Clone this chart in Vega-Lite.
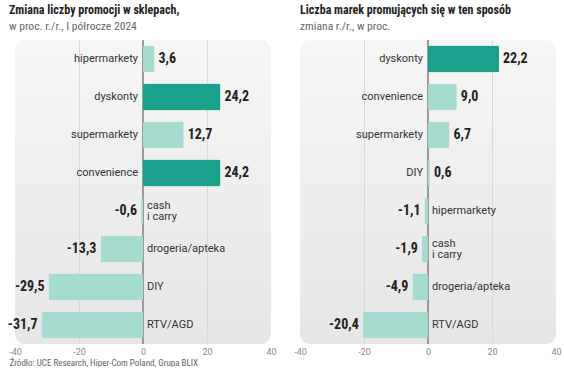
{
  "$schema": "https://vega.github.io/schema/vega-lite/v6.json",
  "padding": {"left": 7, "top": 3, "right": 0, "bottom": 0},
  "background": "white",
  "config": {
    "locale": {"number": {"decimal": ",", "thousands": " ", "grouping": [3], "currency": ["", " zł"], "minus": "-"}},
    "view": {"stroke": null, "cornerRadius": 10, "fill": {"gradient": "linear", "x1": 0, "y1": 0, "x2": 0, "y2": 1, "stops": [{"offset": 0, "color": "#f6f6f6"}, {"offset": 1, "color": "#e6e6e6"}]}},
    "title": {"anchor": "start", "frame": "group", "font": "Liberation Sans Narrow, Roboto Condensed, Roboto", "fontSize": 12, "fontWeight": "bold", "color": "#222", "subtitleFont": "Liberation Sans Narrow, Roboto Condensed, Roboto", "subtitleFontSize": 11.6, "subtitleColor": "#666", "subtitlePadding": 4, "offset": 6},
    "axisX": {"domain": false, "ticks": false, "labelColor": "#8a8a8a", "labelFontSize": 9, "labelFont": "Roboto", "labelFlush": false, "labelPadding": 3, "grid": true, "gridColor": {"condition": {"test": "abs(datum.value) == 20", "value": "#d9d9d9"}, "value": "transparent"}}
  },
  "datasets": {
    "d": [
      {"panel": "A", "order": 1, "cat": "hipermarkety", "value": 3.6, "hl": false},
      {"panel": "A", "order": 2, "cat": "dyskonty", "value": 24.2, "hl": true},
      {"panel": "A", "order": 3, "cat": "supermarkety", "value": 12.7, "hl": false},
      {"panel": "A", "order": 4, "cat": "convenience", "value": 24.2, "hl": true},
      {"panel": "A", "order": 5, "cat": "cash\ni carry", "value": -0.6, "hl": false},
      {"panel": "A", "order": 6, "cat": "drogeria/apteka", "value": -13.3, "hl": false},
      {"panel": "A", "order": 7, "cat": "DIY", "value": -29.5, "hl": false},
      {"panel": "A", "order": 8, "cat": "RTV/AGD", "value": -31.7, "hl": false},
      {"panel": "B", "order": 1, "cat": "dyskonty", "value": 22.2, "hl": true},
      {"panel": "B", "order": 2, "cat": "convenience", "value": 9.0, "hl": false},
      {"panel": "B", "order": 3, "cat": "supermarkety", "value": 6.7, "hl": false},
      {"panel": "B", "order": 4, "cat": "DIY", "value": 0.6, "hl": false},
      {"panel": "B", "order": 5, "cat": "hipermarkety", "value": -1.1, "hl": false},
      {"panel": "B", "order": 6, "cat": "cash\ni carry", "value": -1.9, "hl": false},
      {"panel": "B", "order": 7, "cat": "drogeria/apteka", "value": -4.9, "hl": false},
      {"panel": "B", "order": 8, "cat": "RTV/AGD", "value": -20.4, "hl": false}
    ]
  },
  "hconcat": [
    {
      "width": 256,
      "height": 304,
      "title": {"text": "Zmiana liczby promocji w sklepach,", "subtitle": "w proc. r./r., I półrocze 2024", "dx": -6},
      "data": {"name": "d"},
      "transform": [{"filter": "datum.panel == 'A'"}],
      "encoding": {
        "y": {"field": "cat", "type": "nominal", "sort": ["hipermarkety", "dyskonty", "supermarkety", "convenience", "cash\ni carry", "drogeria/apteka", "DIY", "RTV/AGD"], "axis": null, "scale": {"paddingInner": 0.29, "paddingOuter": 0.145}}
      },
      "layer": [
        {"mark": {"type": "rule", "color": "#9a9a9a", "strokeWidth": 1}, "encoding": {"y": null, "x": {"datum": 0, "type": "quantitative", "scale": {"domain": [-40, 40], "nice": false}, "axis": {"values": [-40, -20, 0, 20, 40], "title": "Źródło: UCE Research, Hiper-Com Poland, Grupa BLIX", "titleFont": "Liberation Sans Narrow, Roboto Condensed, Roboto", "titleFontSize": 9, "titleFontWeight": "normal", "titleColor": "#666", "titleAnchor": "start", "titleAlign": "left", "titleBaseline": "alphabetic", "titleX": -6, "titleY": 21}}}},
        {"mark": {"type": "bar", "cornerRadius": 2}, "encoding": {"x": {"field": "value", "type": "quantitative"}, "color": {"condition": {"test": "datum.hl", "value": "#1ba08b"}, "value": "#a6dbd0"}}},
        {"transform": [{"filter": "datum.value >= 0"}], "mark": {"type": "text", "align": "left", "dx": 4, "font": "Liberation Sans Narrow, Roboto Condensed, Roboto", "fontSize": 14, "fontWeight": "bold", "color": "#222", "baseline": "middle"}, "encoding": {"x": {"field": "value", "type": "quantitative"}, "text": {"field": "value", "type": "quantitative", "format": ".1f"}}},
        {"transform": [{"filter": "datum.value < 0"}], "mark": {"type": "text", "align": "right", "dx": -4, "font": "Liberation Sans Narrow, Roboto Condensed, Roboto", "fontSize": 14, "fontWeight": "bold", "color": "#222", "baseline": "middle"}, "encoding": {"x": {"field": "value", "type": "quantitative"}, "text": {"field": "value", "type": "quantitative", "format": ".1f"}}},
        {"transform": [{"filter": "datum.value >= 0"}], "mark": {"type": "text", "align": "right", "dx": -5, "font": "Roboto", "fontSize": 11, "color": "#333", "baseline": "middle"}, "encoding": {"x": {"datum": 0, "type": "quantitative"}, "text": {"field": "cat"}}},
        {"transform": [{"filter": "datum.value < 0 && indexof(datum.cat, '\\n') < 0"}], "mark": {"type": "text", "align": "left", "dx": 4, "font": "Roboto", "fontSize": 11, "color": "#333", "baseline": "middle"}, "encoding": {"x": {"datum": 0, "type": "quantitative"}, "text": {"field": "cat"}}},
        {"transform": [{"filter": "indexof(datum.cat, '\\n') >= 0"}], "mark": {"type": "text", "align": "left", "dx": 4, "dy": -5.5, "font": "Roboto", "fontSize": 11, "color": "#333", "baseline": "middle", "lineBreak": "\n", "lineHeight": 11}, "encoding": {"x": {"datum": 0, "type": "quantitative"}, "text": {"field": "cat"}}}
      ]
    },
    {
      "width": 256,
      "height": 304,
      "title": {"text": "Liczba marek promujących się w ten sposób", "subtitle": "zmiana r./r., w proc."},
      "data": {"name": "d"},
      "transform": [{"filter": "datum.panel == 'B'"}],
      "encoding": {
        "y": {"field": "cat", "type": "nominal", "sort": ["dyskonty", "convenience", "supermarkety", "DIY", "hipermarkety", "cash\ni carry", "drogeria/apteka", "RTV/AGD"], "axis": null, "scale": {"paddingInner": 0.29, "paddingOuter": 0.145}}
      },
      "layer": [
        {"mark": {"type": "rule", "color": "#9a9a9a", "strokeWidth": 1}, "encoding": {"y": null, "x": {"datum": 0, "type": "quantitative", "scale": {"domain": [-40, 40], "nice": false}, "axis": {"values": [-40, -20, 0, 20, 40], "title": null}}}},
        {"mark": {"type": "bar", "cornerRadius": 2}, "encoding": {"x": {"field": "value", "type": "quantitative"}, "color": {"condition": {"test": "datum.hl", "value": "#1ba08b"}, "value": "#a6dbd0"}}},
        {"transform": [{"filter": "datum.value >= 0"}], "mark": {"type": "text", "align": "left", "dx": 4, "font": "Liberation Sans Narrow, Roboto Condensed, Roboto", "fontSize": 14, "fontWeight": "bold", "color": "#222", "baseline": "middle"}, "encoding": {"x": {"field": "value", "type": "quantitative"}, "text": {"field": "value", "type": "quantitative", "format": ".1f"}}},
        {"transform": [{"filter": "datum.value < 0"}], "mark": {"type": "text", "align": "right", "dx": -4, "font": "Liberation Sans Narrow, Roboto Condensed, Roboto", "fontSize": 14, "fontWeight": "bold", "color": "#222", "baseline": "middle"}, "encoding": {"x": {"field": "value", "type": "quantitative"}, "text": {"field": "value", "type": "quantitative", "format": ".1f"}}},
        {"transform": [{"filter": "datum.value >= 0"}], "mark": {"type": "text", "align": "right", "dx": -5, "font": "Roboto", "fontSize": 11, "color": "#333", "baseline": "middle"}, "encoding": {"x": {"datum": 0, "type": "quantitative"}, "text": {"field": "cat"}}},
        {"transform": [{"filter": "datum.value < 0 && indexof(datum.cat, '\\n') < 0"}], "mark": {"type": "text", "align": "left", "dx": 4, "font": "Roboto", "fontSize": 11, "color": "#333", "baseline": "middle"}, "encoding": {"x": {"datum": 0, "type": "quantitative"}, "text": {"field": "cat"}}},
        {"transform": [{"filter": "indexof(datum.cat, '\\n') >= 0"}], "mark": {"type": "text", "align": "left", "dx": 4, "dy": -5.5, "font": "Roboto", "fontSize": 11, "color": "#333", "baseline": "middle", "lineBreak": "\n", "lineHeight": 11}, "encoding": {"x": {"datum": 0, "type": "quantitative"}, "text": {"field": "cat"}}}
      ]
    }
  ],
  "spacing": 16
}
